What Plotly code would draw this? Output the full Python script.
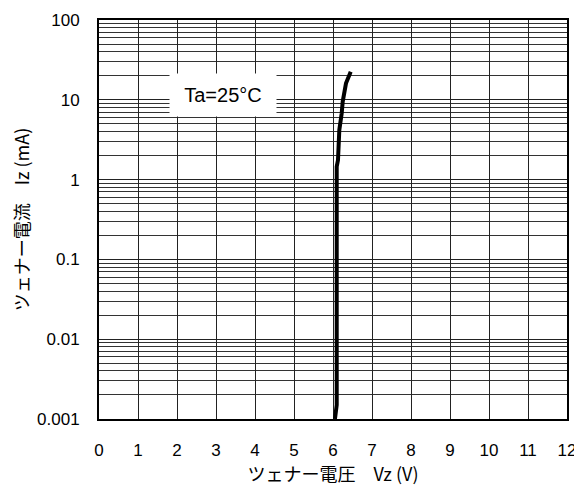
import plotly.graph_objects as go

# Zener voltage Vz (V) and Zener current Iz (mA)
vz = [6.05, 6.095, 6.095, 6.128, 6.162, 6.197, 6.223, 6.249, 6.282, 6.333, 6.454]
iz = [0.001, 0.0015, 1.45, 1.76, 4.2, 5.1, 6.8, 9.5, 12.1, 16.1, 22.5]

x_ticks = list(range(0, 13))
y_ticks = [0.001, 0.01, 0.1, 1, 10, 100]
y_tick_labels = ["0.001", "0.01", "0.1", "1", "10", "100"]

fig = go.Figure()
fig.add_trace(go.Scatter(x=vz, y=iz, mode="lines",
                         line=dict(color="black", width=4), showlegend=False))

fig.add_annotation(x=0.1496, y=0.867, xref="paper", yref="paper",
                   text="Ta=25°C", showarrow=False,
                   font=dict(family="Liberation Sans, Arial", size=20, color="black"),
                   bgcolor="white", width=104, height=40)

tick_font = dict(family="Liberation Sans, Arial", size=17, color="black")
title_font = dict(family="Noto Sans CJK JP", size=18, color="black")

fig.update_xaxes(range=[0, 12], tickvals=x_ticks, ticktext=[str(v) for v in x_ticks],
                 showgrid=True, gridcolor="#222", gridwidth=1,
                 showline=True, linecolor="black", linewidth=2, mirror=True,
                 ticks="", zeroline=False, automargin=False,
                 ticklabelstandoff=15, tickfont=tick_font,
                 title=dict(text="ツェナー電圧　Vz (V)", standoff=9, font=title_font))
fig.update_yaxes(type="log", range=[-3, 2], tickvals=y_ticks, ticktext=y_tick_labels,
                 showgrid=True, gridcolor="#222", gridwidth=1,
                 minor=dict(dtick="D1", showgrid=True, gridcolor="#333", gridwidth=1, ticks=""),
                 showline=True, linecolor="black", linewidth=2, mirror=True,
                 ticks="", zeroline=False, automargin=False,
                 ticklabelstandoff=14, tickfont=tick_font,
                 title=dict(text="ツェナー電流　Iz (mA)", standoff=12, font=title_font))

# the page body adds an 8px offset, so the figure is sized to fit the window
fig.update_layout(width=574, height=482, margin=dict(l=91, r=15, t=12, b=71),
                  plot_bgcolor="white", paper_bgcolor="white")

fig.write_html("out.html")
